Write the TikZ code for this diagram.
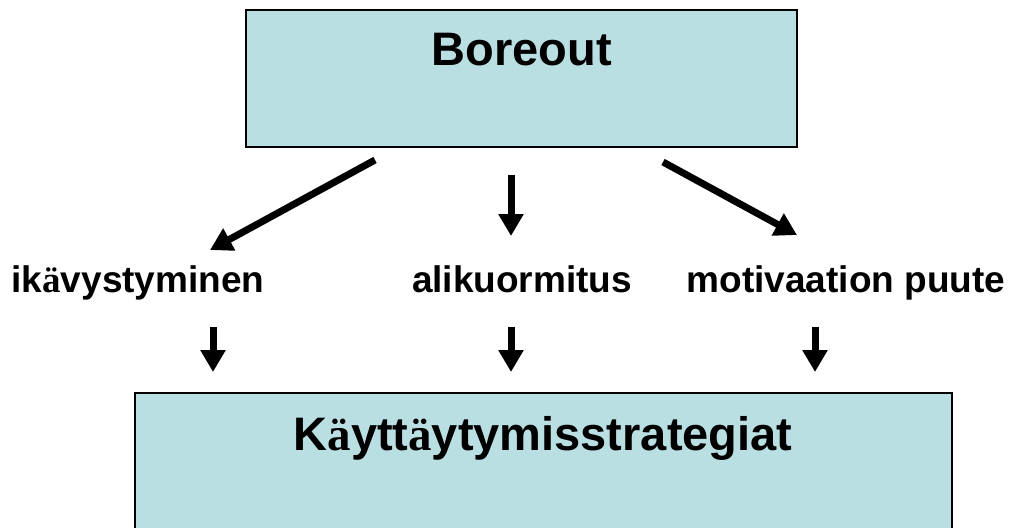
\documentclass[tikz,border=0pt]{standalone}
\usepackage{fontspec}
\setmainfont{Liberation Sans}
\newfontfamily\serifae{Liberation Serif}
\usetikzlibrary{arrows.meta}
\definecolor{boxfill}{RGB}{186,223,227}
\newcommand{\serifauml}{{\serifae\bfseries ä}}
\tikzset{
  boxstyle/.style={draw=black, line width=2.5pt, fill=boxfill},
  bigarrow/.style={line width=7pt, -{Triangle[length=22pt,width=24pt]}},
  lbl/.style={font=\fontsize{37}{40}\selectfont\bfseries, inner sep=0pt, anchor=base},
  title/.style={font=\fontsize{47}{50}\selectfont\bfseries, inner sep=0pt, anchor=base}
}
\begin{document}
\begin{tikzpicture}[x=1pt,y=-1pt]
\useasboundingbox (0,0) rectangle (1011,527);
\draw[boxstyle] (246,10) rectangle (797,147);
\draw[boxstyle] (135,393) rectangle (952,545);
\node[title] (boreout) at (522,65) {Boreout};
\node[title] (kaytt) at (543,450) {K\serifauml ytt\serifauml ytymisstrategiat};
\node[lbl] (ikav) at (138,292) {ik\serifauml vystyminen};
\node[lbl] (alik) at (522,292) {alikuormitus};
\node[lbl] (motiv) at (846,292) {motivaation puute};
\coordinate (a1s) at (375,160);
\coordinate (a1e) at (210,250);
\coordinate (a2s) at (511,175);
\coordinate (a2e) at (511,236);
\coordinate (a3s) at (663,162);
\coordinate (a3e) at (797,235);
\coordinate (b1s) at (213,327);
\coordinate (b1e) at (213,372);
\coordinate (b2s) at (511,327);
\coordinate (b2e) at (511,372);
\coordinate (b3s) at (815,327);
\coordinate (b3e) at (815,372);
\draw[bigarrow] (a1s) -- (a1e);
\draw[bigarrow] (a2s) -- (a2e);
\draw[bigarrow] (a3s) -- (a3e);
\draw[bigarrow] (b1s) -- (b1e);
\draw[bigarrow] (b2s) -- (b2e);
\draw[bigarrow] (b3s) -- (b3e);
\end{tikzpicture}
\end{document}
